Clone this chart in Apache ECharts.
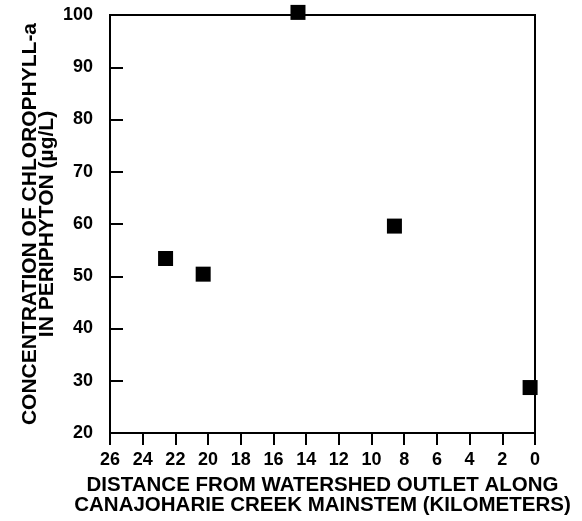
<!DOCTYPE html>
<html>
<head>
<meta charset="utf-8">
<script src="https://cdn.jsdelivr.net/npm/echarts@6/dist/echarts.min.js"></script>
<style>
  html, body { margin: 0; padding: 0; background: #fff; }
  #chart { width: 582px; height: 521px; }
</style>
</head>
<body>
<div id="chart"></div>
<script>
// distance from watershed outlet (km)
const distances = [22.6, 20.3, 14.5, 8.6, 0.3]
// chlorophyll-a concentration (µg/L)
const chlorophyll = [53.4, 50.4, 100.5, 59.6, 28.7]

const xName = "DISTANCE FROM WATERSHED OUTLET ALONG\nCANAJOHARIE CREEK MAINSTEM (KILOMETERS)"
const yName = "CONCENTRATION OF CHLOROPHYLL-a\nIN PERIPHYTON (µg/L)"

const points = distances.map((d, i) => [d, chlorophyll[i]])

const chart = echarts.init(document.getElementById("chart"))

const option = {
  animation: false,
  grid: {
    left: 110,
    right: 47,
    top: 15,
    bottom: 86,
    show: true,
    borderColor: "#000",
    borderWidth: 2
  },
  xAxis: {
    type: "value",
    min: 0,
    max: 26,
    interval: 2,
    inverse: true,
    name: xName,
    nameLocation: "middle",
    nameGap: 42.5,
    nameMoveOverlap: false,
    nameTextStyle: {
      fontFamily: "Liberation Sans",
      fontSize: 20.5,
      fontWeight: "bold",
      lineHeight: 20,
      color: "#000"
    },
    axisLine: { onZero: false, lineStyle: { color: "#000", width: 2 } },
    axisTick: { inside: false, length: 12, lineStyle: { color: "#000", width: 2 } },
    axisLabel: {
      margin: 18,
      fontFamily: "Liberation Sans",
      fontSize: 18,
      fontWeight: "bold",
      color: "#000"
    },
    splitLine: { show: false }
  },
  yAxis: {
    type: "value",
    min: 20,
    max: 100,
    interval: 10,
    name: yName,
    nameLocation: "middle",
    nameGap: 55,
    nameMoveOverlap: false,
    nameTextStyle: {
      fontFamily: "Liberation Sans",
      fontSize: 21,
      fontWeight: "bold",
      lineHeight: 16.5,
      color: "#000"
    },
    axisLine: { onZero: false, lineStyle: { color: "#000", width: 2 } },
    axisTick: { inside: true, length: 13, lineStyle: { color: "#000", width: 2 } },
    axisLabel: {
      margin: 17,
      fontFamily: "Liberation Sans",
      fontSize: 18,
      fontWeight: "bold",
      color: "#000"
    },
    splitLine: { show: false }
  },
  series: [
    {
      type: "scatter",
      data: points,
      symbol: "rect",
      symbolSize: 15,
      clip: false,
      itemStyle: { color: "#000", opacity: 1 }
    }
  ]
}

chart.setOption(option)
</script>
</body>
</html>
